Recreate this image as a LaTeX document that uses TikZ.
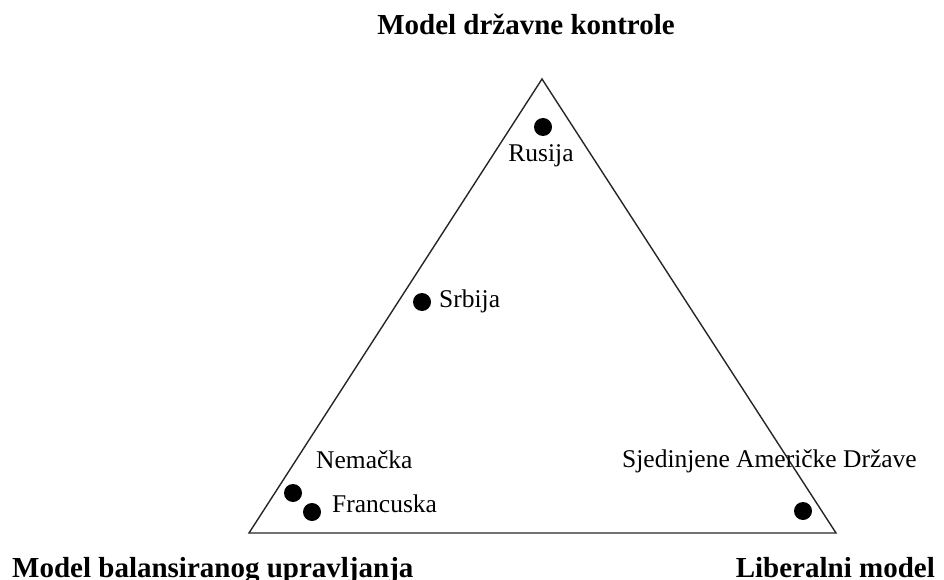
\documentclass[tikz,border=0pt]{standalone}
\usepackage{fontspec}
\setmainfont{Liberation Serif}
\begin{document}
\begin{tikzpicture}[x=1pt,y=-1pt,
  lbl/.style={inner sep=0pt,font=\fontsize{25.5}{30}\selectfont},
  ttl/.style={inner sep=0pt,font=\fontsize{29}{34}\selectfont\bfseries},
  dot/.style={circle,fill=black,inner sep=0pt,minimum size=18pt},
  edge/.style={line width=1.4pt,draw=black!85}]
\useasboundingbox (0,0) rectangle (944,580);
\coordinate (A) at (542,79);
\coordinate (B) at (249,533);
\coordinate (C) at (836,533);
\draw[edge,line join=miter] (A) -- (B) -- (C) -- cycle;
\node[dot] (rus) at (543,127) {};
\node[dot] (srb) at (422,302) {};
\node[dot] (nem) at (293,493) {};
\node[dot] (fra) at (312,512) {};
\node[dot] (usa) at (803,511) {};
\node[lbl,anchor=base] (trus) at (541,162) {Rusija};
\node[lbl,anchor=base west] (tsrb) at (439,307) {Srbija};
\node[lbl,anchor=base west] (tnem) at (316,468) {Nemačka};
\node[lbl,anchor=base west] (tfra) at (332,512) {Francuska};
\node[lbl,anchor=base west] (tusa) at (622,467) {Sjedinjene Američke Države};
\node[ttl,anchor=base] (t1) at (526,35) {Model državne kontrole};
\node[ttl,anchor=base west] (t2) at (12,577) {Model balansiranog upravljanja};
\node[ttl,anchor=base east] (t3) at (935,577) {Liberalni model};
\end{tikzpicture}
\end{document}
